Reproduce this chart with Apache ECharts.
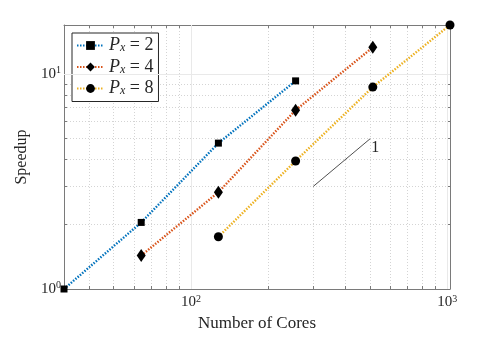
<!doctype html>
<html>
<head>
<meta charset="utf-8">
<script src="https://cdn.jsdelivr.net/npm/echarts@6/dist/echarts.min.js"></script>
<style>
  html, body { margin: 0; padding: 0; background: #fff; }
  #main { width: 498px; height: 337px; }
</style>
</head>
<body>
<div id="main"></div>
<script>
  // values (log-log)
  var cores2 = [32, 64, 128, 256];
  var speed2 = [1, 2.04, 4.77, 9.29];
  var cores4 = [64, 128, 256, 512];
  var speed4 = [1.43, 2.82, 6.79, 13.3];
  var cores8 = [128, 256, 512, 1024];
  var speed8 = [1.75, 3.94, 8.69, 16.9];
  var seriesNames = ['Px = 2', 'Px = 4', 'Px = 8'];

  var slopeX = [300, 500];
  var slopeY = [3, 5];

  var xTicks = [40, 50, 60, 70, 80, 90, 100, 200, 300, 400, 500, 600, 700, 800, 900, 1000];
  var xLabels = [100, 1000];
  var yTicks = [2, 3, 4, 5, 6, 7, 8, 9, 10];
  var yLabels = [1, 10];

  function pairs(xs, ys) {
    return xs.map(function (x, i) { return [x, ys[i]]; });
  }

  var serif = '"Liberation Serif", "DejaVu Serif", serif';
  var ink = '#262626';
  var boxColor = '#7a7a7a';
  var powRich = {
    b: { fontSize: 15, fontFamily: serif, color: ink, lineHeight: 17 },
    s: { fontSize: 10, fontFamily: serif, color: ink, verticalAlign: 'top', lineHeight: 17, padding: [0, 0, 6, 0] }
  };
  function powLabel(v) {
    return '{b|10}{s|' + Math.round(Math.log10(v)) + '}';
  }

  function logAxis(pos, min, max, ticks, labels, withGrid, isX) {
    return {
      type: 'log',
      logBase: 10,
      position: pos,
      min: min,
      max: max,
      axisLine: { show: true, onZero: false, lineStyle: { color: boxColor, width: 1 } },
      axisTick: { show: true, inside: true, length: 3, customValues: ticks, lineStyle: { color: boxColor } },
      axisLabel: {
        show: labels != null,
        customValues: labels || [],
        formatter: powLabel,
        rich: powRich,
        margin: isX ? 5 : 3
      },
      splitLine: {
        show: withGrid,
        lineStyle: { color: '#d4d4d4', width: 1, type: [1, 2] }
      },
      minorTick: { show: false },
      minorSplitLine: { show: false }
    };
  }

  var xAxes = [
    logAxis('bottom', 32, 1024, xTicks, xLabels, true, true),
    logAxis('top', 32, 1024, xTicks, null, false, true)
  ];
  xAxes[0].name = 'Number of Cores';
  xAxes[0].nameLocation = 'middle';
  xAxes[0].nameGap = 26;
  xAxes[0].nameTextStyle = { fontFamily: serif, fontSize: 17, color: ink };

  var yAxes = [
    logAxis('left', 1, 16.9, yTicks, yLabels, true, false),
    logAxis('right', 1, 16.9, yTicks, null, false, false)
  ];
  yAxes[0].name = 'Speedup';
  yAxes[0].nameLocation = 'middle';
  yAxes[0].nameGap = 32;
  yAxes[0].nameTextStyle = { fontFamily: serif, fontSize: 16, color: ink };

  function dataSeries(name, xs, ys, color, symbol, size) {
    return {
      name: name,
      type: 'line',
      data: pairs(xs, ys),
      clip: false,
      symbol: symbol,
      symbolSize: size,
      showAllSymbol: true,
      lineStyle: { color: color, width: 2.4, type: [1.5, 1.5] },
      itemStyle: { color: '#000', borderColor: '#000', borderWidth: 0 },
      z: 5
    };
  }

  var chart = echarts.init(document.getElementById('main'), null, { renderer: 'canvas' });
  chart.setOption({
    backgroundColor: '#fff',
    animation: false,
    grid: { left: 64, right: 48, top: 25, bottom: 44 },
    xAxis: xAxes,
    yAxis: yAxes,
    legend: {
      data: seriesNames,
      orient: 'vertical',
      left: 72,
      top: 33,
      padding: [3, 5, 4, 4],
      itemGap: 3,
      itemWidth: 27,
      itemHeight: 11,
      backgroundColor: '#fff',
      borderColor: ink,
      borderWidth: 1,
      borderRadius: 0,
      formatter: function (name) {
        return '{p|P}{x|x}{n| = ' + name.split('= ')[1] + '}';
      },
      textStyle: {
        rich: {
          p: { fontFamily: serif, fontStyle: 'italic', fontSize: 18, color: ink, lineHeight: 17 },
          x: { fontFamily: serif, fontStyle: 'italic', fontSize: 12, color: ink, verticalAlign: 'bottom', lineHeight: 17, padding: [6, 0, 0, 0] },
          n: { fontFamily: serif, fontSize: 18, color: ink, lineHeight: 17 }
        }
      }
    },
    series: [
      dataSeries(seriesNames[0], cores2, speed2, '#0072BD', 'rect', 7),
      dataSeries(seriesNames[1], cores4, speed4, '#D95319', 'diamond', [9, 13]),
      dataSeries(seriesNames[2], cores8, speed8, '#EDB120', 'circle', 9),
      {
        name: 'slope',
        type: 'line',
        data: pairs(slopeX, slopeY),
        symbol: 'none',
        silent: true,
        lineStyle: { color: '#222', width: 0.8, type: 'solid' },
        endLabel: {
          show: true,
          formatter: '1',
          fontFamily: serif,
          fontSize: 16,
          color: ink,
          distance: 1,
          offset: [0, 9]
        },
        markLine: {
          silent: true,
          symbol: 'none',
          label: { show: false },
          lineStyle: { color: '#e9e9e9', width: 1, type: 'solid' },
          data: [{ xAxis: 100 }, { xAxis: 1000 }, { yAxis: 10 }]
        },
        z: 3
      }
    ]
  });
</script>
</body>
</html>
